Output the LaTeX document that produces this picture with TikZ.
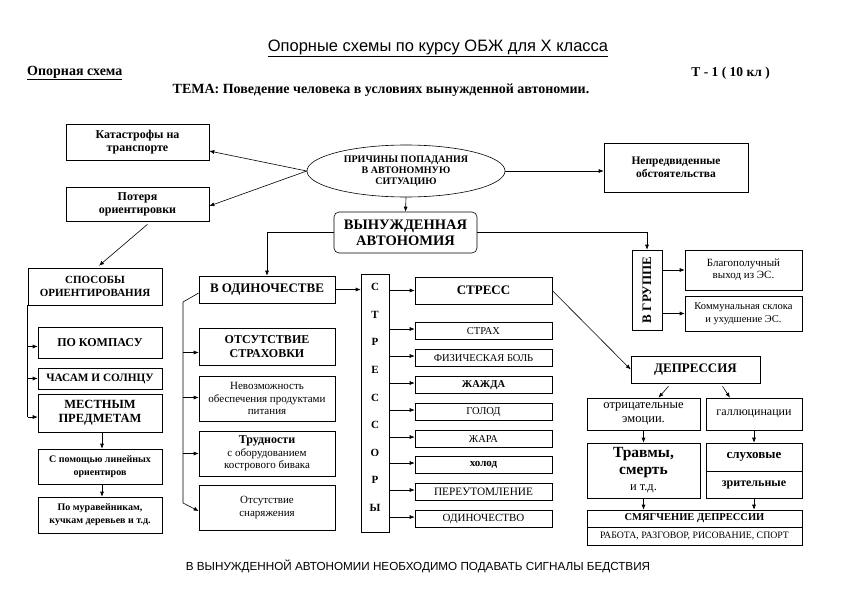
\documentclass[tikz,border=0pt]{standalone}
\usepackage{fontspec}
\setmainfont{Liberation Serif}
\newfontfamily\sansf{Liberation Sans}
\usetikzlibrary{arrows.meta,shapes.geometric,calc}
\newcommand\fsz[2]{\fontsize{#1}{#2}\selectfont}
\begin{document}
\begin{tikzpicture}[x=1pt,y=-1pt,
  box/.style={draw, line width=0.6pt, align=center, inner sep=1pt},
  arr/.style={-{Latex[length=5pt,width=4pt]}, line width=0.6pt},
  ln/.style={line width=0.6pt},
  sbox/.style={box, minimum width=137, minimum height=17, font=\fsz{10.5}{12}}]
\useasboundingbox[fill=white] (0,0) rectangle (841,595);

% header
\node[font=\sansf\fsz{16.5}{18}] (hdr) at (438,48) {\underline{Опорные схемы по курсу ОБЖ для X класса}};
\node[font=\bfseries\fsz{14}{15}, anchor=west, inner sep=0pt] (opor) at (27,73) {\underline{Опорная схема}};
\node[font=\bfseries\fsz{13.5}{15}, anchor=east, inner sep=0pt] (tnum) at (770,73) {Т - 1 ( 10 кл )};
\node[font=\bfseries\fsz{14}{15}] (tema) at (381,90) {ТЕМА: Поведение человека в условиях вынужденной автономии.};

% top
\node[box, minimum width=143, minimum height=36, font=\bfseries\fsz{12}{13}] (kat) at (137.5,142) {Катастрофы на\\транспорте};
\node[box, minimum width=143, minimum height=34, font=\bfseries\fsz{12}{13}] (pot) at (137.5,204) {Потеря\\ориентировки};
\node[draw, ellipse, line width=0.6pt, minimum width=198, minimum height=52, inner sep=0pt, align=center, font=\bfseries\fsz{10}{11}] (pr) at (406,171) {ПРИЧИНЫ ПОПАДАНИЯ\\В АВТОНОМНУЮ\\СИТУАЦИЮ};
\node[box, minimum width=144, minimum height=49, font=\bfseries\fsz{11.5}{13.5}] (nep) at (676,167.5) {Непредвиденные\\обстоятельства};
\node[box, rounded corners=5pt, minimum width=143, minimum height=41, font=\bfseries\fsz{14.5}{16}] (vyn) at (405.5,232.5) {ВЫНУЖДЕННАЯ\\АВТОНОМИЯ};

% left column
\node[box, minimum width=134, minimum height=37, font=\bfseries\fsz{11}{13}] (spos) at (95,286.5) {СПОСОБЫ\\ОРИЕНТИРОВАНИЯ};
\node[box, minimum width=124, minimum height=31, font=\bfseries\fsz{12}{13}] (komp) at (100,342.5) {ПО КОМПАСУ};
\node[box, minimum width=124, minimum height=21, font=\bfseries\fsz{11.3}{12}] (chas) at (100,378.5) {ЧАСАМ И СОЛНЦУ};
\node[box, minimum width=124, minimum height=38, font=\bfseries\fsz{12.5}{14}] (mest) at (100,413) {МЕСТНЫМ\\ПРЕДМЕТАМ};
\node[box, minimum width=124, minimum height=35, font=\bfseries\fsz{10}{13}] (lin) at (100,466.5) {С помощью линейных\\ориентиров};
\node[box, minimum width=124, minimum height=36, font=\bfseries\fsz{10}{13}] (mur) at (100,515) {По муравейникам,\\кучкам деревьев и т.д.};

% middle-left column
\node[box, minimum width=136, minimum height=27, font=\bfseries\fsz{13}{14}] (odin) at (267,289.5) {В ОДИНОЧЕСТВЕ};
\node[box, minimum width=136, minimum height=37, font=\bfseries\fsz{12}{13.5}] (otst) at (267,346.5) {ОТСУТСТВИЕ\\СТРАХОВКИ};
\node[box, minimum width=136, minimum height=45, font=\fsz{11}{12.5}] (nevoz) at (267,398.5) {Невозможность\\обеспечения продуктами\\питания};
\node[box, minimum width=136, minimum height=45, font=\fsz{11}{12.5}] (trud) at (267,453.5) {{\bfseries\fsz{12}{12.5}Трудности}\\с оборудованием\\кострового бивака};
\node[box, minimum width=136, minimum height=45, font=\fsz{11}{12.5}] (snar) at (267,507.5) {Отсутствие\\снаряжения};

% stressors
\node[box, minimum width=28, minimum height=258] (strs) at (375,403) {};
\node[font=\bfseries\fsz{11}{27.6}, align=center, inner sep=0pt] (strsl) at (375,397.5) {С\\Т\\Р\\Е\\С\\С\\О\\Р\\Ы};
\node[box, minimum width=137, minimum height=27, font=\bfseries\fsz{13}{14}] (stress) at (483.5,290.5) {СТРЕСС};
\node[sbox] (strah) at (483.5,331) {СТРАХ};
\node[sbox] (bol) at (483.5,358) {ФИЗИЧЕСКАЯ БОЛЬ};
\node[sbox, font=\bfseries\fsz{10.5}{12}] (zhazh) at (483.5,385) {ЖАЖДА};
\node[sbox] (golod) at (483.5,412) {ГОЛОД};
\node[sbox] (zhara) at (483.5,439) {ЖАРА};
\node[sbox, font=\bfseries\fsz{11}{12}] (holod) at (483.5,465) {холод};
\node[sbox, font=\fsz{11.3}{12}] (pereut) at (483.5,492) {ПЕРЕУТОМЛЕНИЕ};
\node[sbox, font=\fsz{11}{12}] (odin2) at (483.5,519) {ОДИНОЧЕСТВО};

% right side
\node[box, minimum width=30, minimum height=80] (grp) at (647,290) {};
\node[rotate=90, font=\bfseries\fsz{13}{14}, inner sep=0pt] (grpl) at (grp.center) {В ГРУППЕ};
\node[box, minimum width=117, minimum height=40, font=\fsz{11}{12.5}] (blag) at (743.5,270) {Благополучный\\выход из ЭС.};
\node[box, minimum width=117, minimum height=35, font=\fsz{10.5}{12.5}] (komm) at (743.5,313.5) {Коммунальная склока\\и ухудшение ЭС.};
\node[box, minimum width=129, minimum height=27, font=\bfseries\fsz{13}{14}] (depr) at (695.5,369.5) {ДЕПРЕССИЯ};
\node[box, minimum width=113, minimum height=32, font=\fsz{12.5}{14}] (otr) at (643.5,414) {отрицательные\\эмоции.};
\node[box, minimum width=96, minimum height=32, font=\fsz{12}{13}] (gall) at (754,414) {галлюцинации};
\node[box, minimum width=113, minimum height=55, font=\bfseries\fsz{15.5}{16.5}] (trav) at (643.5,470.5) {Травмы,\\смерть\\{\mdseries\fsz{12.5}{16}и т.д.}};
\node[box, minimum width=96, minimum height=28, font=\bfseries\fsz{13}{14}] (sluh) at (754,457) {слуховые};
\node[box, minimum width=96, minimum height=27, font=\bfseries\fsz{12}{13}] (zrit) at (754,484.5) {зрительные};
\node[box, minimum width=215, minimum height=17, font=\bfseries\fsz{10.5}{12}] (smyg1) at (694.5,518.5) {СМЯГЧЕНИЕ ДЕПРЕССИИ};
\node[box, minimum width=215, minimum height=18, font=\fsz{9.8}{10}] (smyg2) at (694.5,536) {РАБОТА, РАЗГОВОР, РИСОВАНИЕ, СПОРТ};

% footer
\node[font=\sansf\fsz{11.7}{13}] (foot) at (418,566) {В ВЫНУЖДЕННОЙ АВТОНОМИИ НЕОБХОДИМО ПОДАВАТЬ СИГНАЛЫ БЕДСТВИЯ};

% connectors top
\draw[arr] (pr.west) -- ([yshift=-9pt]kat.east);
\draw[arr] (pr.west) -- ([yshift=-2pt]pot.east);
\draw[arr] (pr.east) -- (pr.east -| nep.west);
\draw[arr] (pr.south) -- (vyn.north);
\draw[arr] (vyn.west) -| (odin.north);
\draw[arr] (vyn.east) -| (grp.north);
\draw[arr] ([xshift=10pt,yshift=-3pt]pot.south) -- ([xshift=4pt,yshift=2pt]spos.north);

% left column connectors
\draw[ln] (spos.south west) -- ([yshift=-4pt]spos.south west |- mest.west);
\path ([yshift=-4pt]komp.west) coordinate (k1) ([yshift=-4pt]mest.west) coordinate (m1);
\draw[arr] (spos.south west |- k1) -- (k1);
\draw[arr] (spos.south west |- chas.west) -- (chas.west);
\draw[arr] (spos.south west |- m1) -- (m1);
\draw[arr] ([xshift=2pt]mest.south) -- ([xshift=2pt]lin.north);
\draw[arr] ([xshift=2pt]lin.south) -- ([xshift=2pt]mur.north);

% middle-left bracket
\coordinate (bt) at (183,302);
\coordinate (bb) at (183,503);
\draw[ln] ([yshift=-3.5pt]odin.west) -- (bt) -- (bb);
\draw[arr] (bb) -- ([yshift=-3.5pt]snar.west);
\path ([yshift=-6pt]otst.west) coordinate (o1) ([yshift=1pt]nevoz.west) coordinate (n1) (trud.west) coordinate (t1);
\draw[arr] (bt |- o1) -- (o1);
\draw[arr] (bt |- n1) -- (n1);
\draw[arr] (bt |- t1) -- (t1);

% stressors connectors
\draw[arr] (odin.east) -- (odin.east -| strs.west);
\draw[arr] (strs.east |- stress.west) -- (stress.west);
\foreach \n in {strah,bol,zhazh,golod,zhara,holod,pereut,odin2}{
  \path ([yshift=2pt]\n.west) coordinate (tmp);
  \draw[arr] (strs.east |- tmp) -- (tmp);
}
\draw[arr] (stress.east) -- (depr.west);

% right connectors
\draw[arr] (grp.east |- blag.west) -- (blag.west);
\draw[arr] (grp.east |- komm.west) -- (komm.west);
\draw[arr] ([xshift=-27pt,yshift=-3pt]depr.south) -- ([xshift=15pt]otr.north);
\draw[arr] ([xshift=27pt,yshift=-3pt]depr.south) -- ([xshift=-24pt]gall.north);
\draw[arr] (otr.south) -- (trav.north);
\draw[arr] (gall.south) -- (sluh.north);
\draw[arr] (trav.south) -- (trav.south |- smyg1.north);
\draw[arr] (zrit.south) -- (zrit.south |- smyg1.north);
\end{tikzpicture}
\end{document}
